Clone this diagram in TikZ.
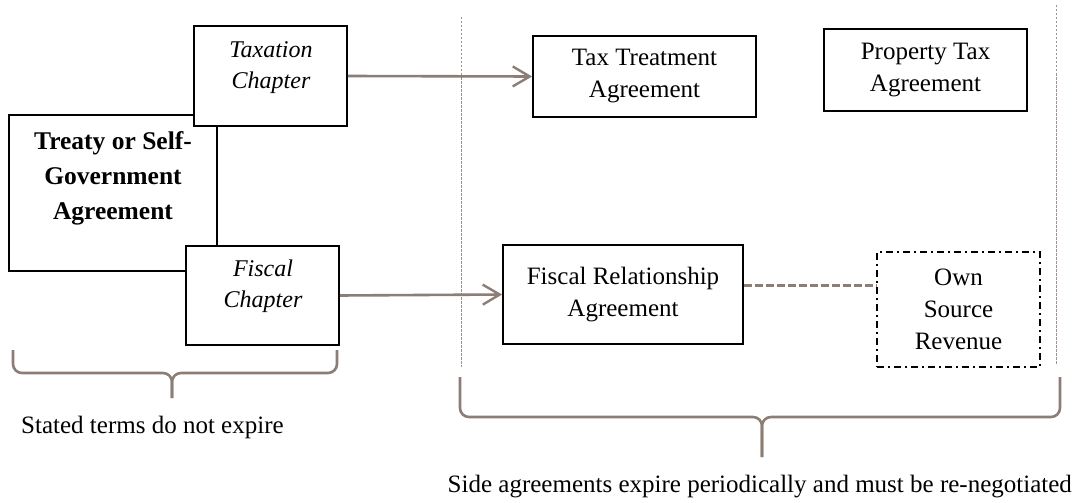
\documentclass[tikz,border=0pt]{standalone}
\usepackage{fontspec}
\setmainfont{Liberation Serif}
\usetikzlibrary{arrows.meta}
\definecolor{conn}{HTML}{8C7D75}
\definecolor{guide}{HTML}{A0918A}
\newcommand\regfont{\fontsize{25}{32}\selectfont}
\newcommand\itfont{\fontsize{24}{31}\selectfont\itshape}
\newcommand\bdfont{\fontsize{25.5}{35}\selectfont\bfseries}
\begin{document}
\begin{tikzpicture}[x=1pt,y=-1pt,
  box/.style={draw=black,line width=1.8pt,fill=white,inner sep=0pt,align=center,font=\regfont},
  osrbox/.style={box,dash pattern=on 7pt off 4pt on 2pt off 4pt},
  lbl/.style={inner sep=0pt,align=center},
  arr/.style={draw=conn,line width=2.6pt,-{Straight Barb[length=17pt,width=20pt,line width=2.4pt]}},
  dconn/.style={draw=conn,line width=2.6pt,dash pattern=on 8pt off 3pt},
  guideline/.style={draw=guide,line width=0.9pt,dash pattern=on 2.5pt off 1.5pt},
  bracestyle/.style={draw=conn,line width=2.6pt,rounded corners=9pt}]
\useasboundingbox (0,0) rectangle (1076,503);

% guides
\coordinate (g1t) at (461,17);
\coordinate (g1b) at (461,367);
\coordinate (g2t) at (1056,5);
\coordinate (g2b) at (1056,365);
\draw[guideline] (g1t) -- (g1b);
\draw[guideline] (g2t) -- (g2b);

% left group
\node[box,minimum width=208pt,minimum height=156pt] (treaty) at (113,193) {};
\node[lbl,font=\bdfont,anchor=north] (treatytxt) at (113,131) {Treaty or Self-\\Government\\Agreement};
\node[box,minimum width=153pt,minimum height=100pt] (tax) at (270.5,76) {};
\node[lbl,font=\itfont,anchor=north] (taxtxt) at (271,41) {Taxation\\Chapter};
\node[box,minimum width=153pt,minimum height=99pt] (fisc) at (262.5,295.5) {};
\node[lbl,font=\itfont,anchor=north] (fisctxt) at (263,260) {Fiscal\\Chapter};

% right group
\node[box,minimum width=223pt,minimum height=81pt] (tt) at (644.5,76.5) {Tax Treatment\\Agreement};
\node[box,minimum width=203pt,minimum height=82pt] (pt) at (925.5,70) {Property Tax\\Agreement};
\node[box,minimum width=240pt,minimum height=99pt] (fra) at (623,294.5) {Fiscal Relationship\\Agreement};
\node[osrbox,minimum width=163pt,minimum height=115pt] (osr) at (958.5,309.5) {Own\\Source\\Revenue};

% connectors
\draw[arr] (tax.east) -- (tt.west);
\draw[arr] (fisc.east) -- (fra.west);
\coordinate (dstart) at ([yshift=9pt]fra.east);
\draw[dconn] (dstart) -- (dstart -| osr.west);

% braces
\coordinate (lb1) at (13,350);
\coordinate (lb2) at (337,350);
\coordinate (lbt) at (172,398);
\draw[bracestyle] (lb1) -- (13,373) -- (172,373) -- (lbt);
\draw[bracestyle] (lb2) -- (337,373) -- (172,373) -- (lbt);
\coordinate (rb1) at (460,377);
\coordinate (rb2) at (1060,377);
\coordinate (rbt) at (762,457);
\draw[bracestyle] (rb1) -- (460,417) -- (762,417) -- (rbt);
\draw[bracestyle] (rb2) -- (1060,417) -- (762,417) -- (rbt);

\node[lbl,font=\regfont,anchor=west] (stated) at (21,427) {Stated terms do not expire};
\node[lbl,font=\regfont,anchor=east] (side) at (1072,487) {Side agreements expire periodically and must be re-negotiated};
\end{tikzpicture}
\end{document}
